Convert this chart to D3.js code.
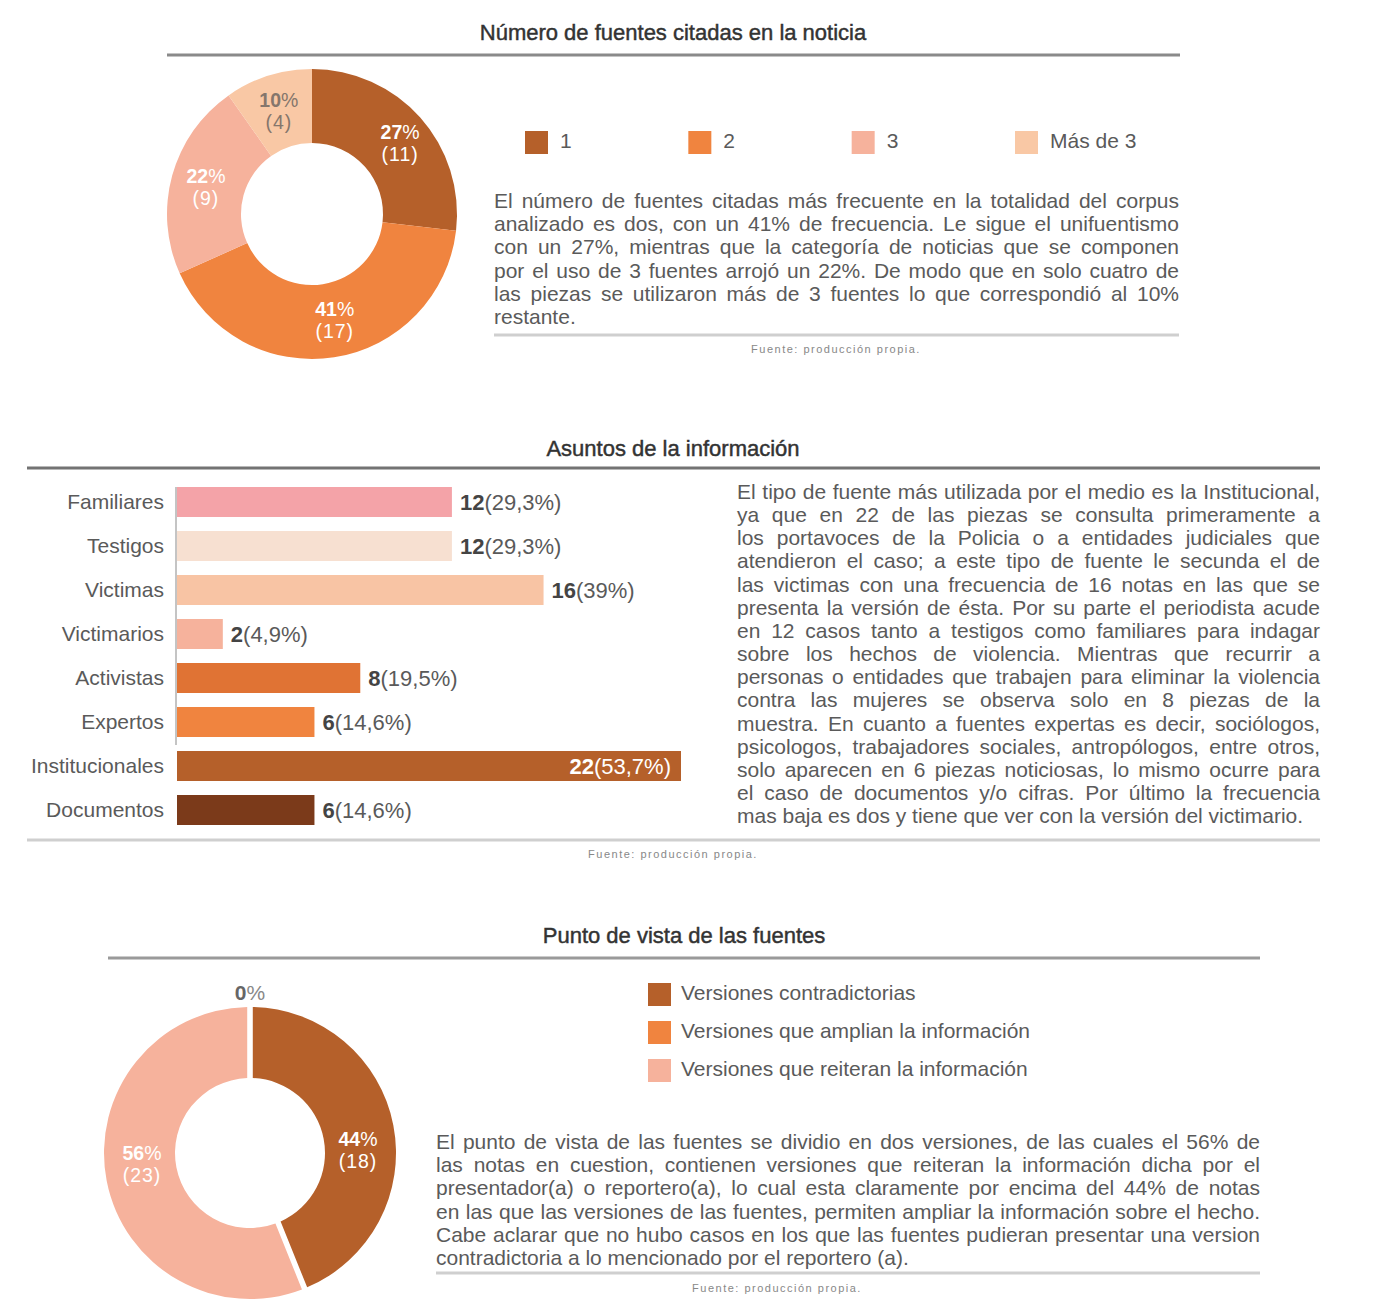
<!DOCTYPE html>
<html><head><meta charset="utf-8">
<script src="https://cdn.jsdelivr.net/npm/d3@7"></script>
<style>
body{margin:0;background:#fff;}
svg{display:block;font-family:"Liberation Sans",Arial,Helvetica,sans-serif;}
</style></head><body>
<svg id="chart" width="1388" height="1314"></svg>
<script>
// ---------- DATA ----------
const titles = ["Número de fuentes citadas en la noticia", "Asuntos de la información", "Punto de vista de las fuentes"];
const sourceNote = "Fuente: producción propia.";

const fuentesCategories = ["1", "2", "3", "Más de 3"];
const fuentesValues = [11, 17, 9, 4];
const fuentesColors = ["#B5602A", "#F0843F", "#F6B29C", "#F9C8A5"];

const asuntosCategories = ["Familiares", "Testigos", "Victimas", "Victimarios", "Activistas", "Expertos", "Institucionales", "Documentos"];
const asuntosValues = [12, 12, 16, 2, 8, 6, 22, 6];
const asuntosPct = ["(29,3%)", "(29,3%)", "(39%)", "(4,9%)", "(19,5%)", "(14,6%)", "(53,7%)", "(14,6%)"];
const asuntosColors = ["#F4A3A8", "#F7E0D1", "#F8C4A4", "#F6B29C", "#E07334", "#F0843F", "#B5602A", "#7B3A1A"];

const puntoCategories = ["Versiones contradictorias", "Versiones que amplian la información", "Versiones que reiteran la información"];
const puntoValues = [0, 18, 23];
const puntoLegendColors = ["#B5602A", "#F0843F", "#F6B29C"];
const puntoSliceColors = ["#F0843F", "#B5602A", "#F6B29C"];

const texto1 = [
"El número de fuentes citadas más frecuente en la totalidad del corpus",
"analizado es dos, con un 41% de frecuencia. Le sigue el unifuentismo",
"con un 27%, mientras que la categoría de noticias que se componen",
"por el uso de 3 fuentes arrojó un 22%. De modo que en solo cuatro de",
"las piezas se utilizaron más de 3 fuentes lo que correspondió al 10%",
"restante."];
const texto2 = [
"El tipo de fuente más utilizada por el medio es la Institucional,",
"ya que en 22 de las piezas se consulta primeramente a",
"los portavoces de la Policia o a entidades judiciales que",
"atendieron el caso; a este tipo de fuente le secunda el de",
"las victimas con una frecuencia de 16 notas en las que se",
"presenta la versión de ésta. Por su parte el periodista acude",
"en 12 casos tanto a testigos como familiares para indagar",
"sobre los hechos de violencia. Mientras que recurrir a",
"personas o entidades que trabajen para eliminar la violencia",
"contra las mujeres se observa solo en 8 piezas de la",
"muestra. En cuanto a fuentes expertas es decir, sociólogos,",
"psicologos, trabajadores sociales, antropólogos, entre otros,",
"solo aparecen en 6 piezas noticiosas, lo mismo ocurre para",
"el caso de documentos y/o cifras.  Por último la frecuencia",
"mas baja es dos y tiene que ver con la versión del victimario."];
const texto3 = [
"El punto de vista de las fuentes se dividio en dos versiones, de las cuales el 56% de",
"las notas en cuestion, contienen versiones que reiteran la información dicha por el",
"presentador(a) o reportero(a), lo cual esta claramente por encima del 44% de notas",
"en las que las versiones de las fuentes, permiten ampliar la información sobre el hecho.",
"Cabe aclarar que no hubo casos en los que las fuentes pudieran presentar una version",
"contradictoria a lo mencionado por el reportero (a)."];

// ---------- HELPERS ----------
const svg = d3.select("#chart");
const TXT = "#5a5a5a";

function title(text, cx, y, x1, x2, ry, col) {
  svg.append("text").attr("x", cx).attr("y", y).attr("text-anchor", "middle")
    .attr("font-size", 22).attr("fill", "#333").attr("stroke", "#333").attr("stroke-width", 0.45)
    .text(text);
  svg.append("line").attr("x1", x1).attr("x2", x2).attr("y1", ry).attr("y2", ry)
    .attr("stroke", col).attr("stroke-width", 3);
}
function footer(x1, x2, ry, cx, ty) {
  svg.append("line").attr("x1", x1).attr("x2", x2).attr("y1", ry).attr("y2", ry)
    .attr("stroke", "#cfcfcf").attr("stroke-width", 3);
  svg.append("text").attr("x", cx).attr("y", ty).attr("text-anchor", "middle")
    .attr("font-size", 11).attr("letter-spacing", 1.5).attr("fill", "#888").text(sourceNote);
}
function paragraph(lines, x, y0, lh, width, size) {
  lines.forEach((raw, i) => {
    const line = raw.replace(/\s+/g, " ");
    const t = svg.append("text").attr("x", x).attr("y", y0 + i * lh)
      .attr("font-size", size).attr("fill", TXT).text(line);
    if (i < lines.length - 1) {
      const w = t.node().getComputedTextLength();
      const spaces = (line.match(/ /g) || []).length;
      const extra = width - w;
      if (extra >= 0 && spaces) t.style("word-spacing", (extra / spaces) + "px");
      else t.attr("letter-spacing", extra / (line.length - 1));
    }
  });
}
function pctLabel(g, x, y, num, sub, fill, size) {
  const t = g.append("text").attr("text-anchor", "middle")
    .attr("font-size", size).attr("fill", fill);
  t.append("tspan").attr("x", x).attr("y", y - 2).attr("font-weight", "bold").text(num);
  t.append("tspan").text("%");
  t.append("tspan").attr("x", x).attr("y", y + 20).attr("letter-spacing", 1).text("(" + sub + ")");
}

// ---------- SECTION 1 : donut ----------
title(titles[0], 673, 40, 167, 1180, 55, "#8a8a8a");
{
  const total = d3.sum(fuentesValues);
  const g = svg.append("g").attr("transform", "translate(312,214)");
  const pie = d3.pie().sort(null).value(d => d)(fuentesValues);
  const arc = d3.arc().innerRadius(71).outerRadius(145);
  const lab = d3.arc().innerRadius(110).outerRadius(110);
  g.selectAll("path").data(pie).join("path").attr("d", arc).attr("fill", (d, i) => fuentesColors[i]);
  pie.forEach((d, i) => {
    const [cx, cy] = lab.centroid(d);
    pctLabel(g, cx + (i === 0 ? 6 : i === 1 ? 6 : 0), cy + (i === 1 ? -5 : 0), Math.round(d.value / total * 100), d.value,
      i === 3 ? "#85766c" : "#fff", 19.5);
  });
  // legend
  const lx = d3.scalePoint().domain(fuentesCategories).range([525, 1015]);
  const lg = svg.append("g");
  fuentesCategories.forEach((c, i) => {
    lg.append("rect").attr("x", lx(c)).attr("y", 131).attr("width", 23).attr("height", 23).attr("fill", fuentesColors[i]);
    lg.append("text").attr("x", lx(c) + 35).attr("y", 148).attr("font-size", 21).attr("fill", TXT).text(c);
  });
}
paragraph(texto1, 494, 208, 23.2, 685, 21);
footer(494, 1179, 335, 836, 353);

// ---------- SECTION 2 : bars ----------
title(titles[1], 673, 456, 27, 1320, 468, "#737373");
{
  const y = d3.scaleBand().domain(asuntosCategories).range([480, 832]).paddingInner(14 / 44).paddingOuter(7 / 44);
  const x = d3.scaleLinear().domain([0, 22]).range([177, 681]);
  const g = svg.append("g");
  g.selectAll("rect").data(asuntosValues).join("rect")
    .attr("x", x(0)).attr("y", (d, i) => y(asuntosCategories[i]))
    .attr("width", d => x(d) - x(0)).attr("height", y.bandwidth())
    .attr("fill", (d, i) => asuntosColors[i]);
  g.append("line").attr("x1", 176).attr("x2", 176)
    .attr("y1", y(asuntosCategories[0])).attr("y2", y("Expertos") + y.bandwidth() + 8)
    .attr("stroke", "#c4c4c4").attr("stroke-width", 2);
  const ax = svg.append("g").attr("transform", "translate(176,0)")
    .call(d3.axisLeft(y).tickSize(0).tickPadding(12));
  ax.select(".domain").remove();
  ax.selectAll("text").attr("font-size", 21).attr("fill", TXT)
    .attr("font-family", "Liberation Sans, Arial, sans-serif").attr("dy", "0.35em");
  asuntosValues.forEach((v, i) => {
    const c = asuntosCategories[i];
    const inside = v === d3.max(asuntosValues);
    const t = g.append("text").attr("y", y(c) + y.bandwidth() / 2 + 8).attr("font-size", 22)
      .attr("x", inside ? x(v) - 10 : x(v) + 8)
      .attr("text-anchor", inside ? "end" : "start")
      .attr("fill", inside ? "#fff" : TXT);
    t.append("tspan").attr("font-weight", "bold").attr("fill", inside ? "#fff" : "#444").text(v);
    t.append("tspan").text(asuntosPct[i]);
  });
}
paragraph(texto2, 737, 499, 23.15, 583, 21);
footer(27, 1320, 840, 673, 858);

// ---------- SECTION 3 : donut ----------
title(titles[2], 684, 943, 108, 1260, 958, "#9a9a9a");
{
  const total = d3.sum(puntoValues);
  const g = svg.append("g").attr("transform", "translate(250,1153)");
  const pie = d3.pie().sort(null).value(d => d)(puntoValues);
  const arc = d3.arc().innerRadius(75).outerRadius(146).padAngle(0.034);
  const lab = d3.arc().innerRadius(110).outerRadius(110);
  g.selectAll("path").data(pie.filter(d => d.value > 0)).join("path")
    .attr("d", arc).attr("fill", d => puntoSliceColors[d.index]);
  pie.forEach((d, i) => {
    if (d.value > 0) {
      const [cx, cy] = lab.centroid(d);
      pctLabel(g, cx, cy * 0.35 + 2, Math.round(d.value / total * 100), d.value, "#fff", 19.5);
    } else {
      const t = g.append("text").attr("x", 0).attr("y", -153).attr("text-anchor", "middle")
        .attr("font-size", 21).attr("fill", "#888");
      t.append("tspan").attr("font-weight", "bold").attr("fill", "#666").text(Math.round(d.value / total * 100));
      t.append("tspan").text("%");
    }
  });
  const ly = d3.scalePoint().domain(puntoCategories).range([983, 1059]);
  puntoCategories.forEach((c, i) => {
    svg.append("rect").attr("x", 648).attr("y", ly(c)).attr("width", 23).attr("height", 23).attr("fill", puntoLegendColors[i]);
    svg.append("text").attr("x", 681).attr("y", ly(c) + 17).attr("font-size", 21).attr("fill", TXT).text(c);
  });
}
paragraph(texto3, 436, 1149, 23.2, 824, 21);
footer(436, 1260, 1273, 777, 1292);
</script>
</body></html>
